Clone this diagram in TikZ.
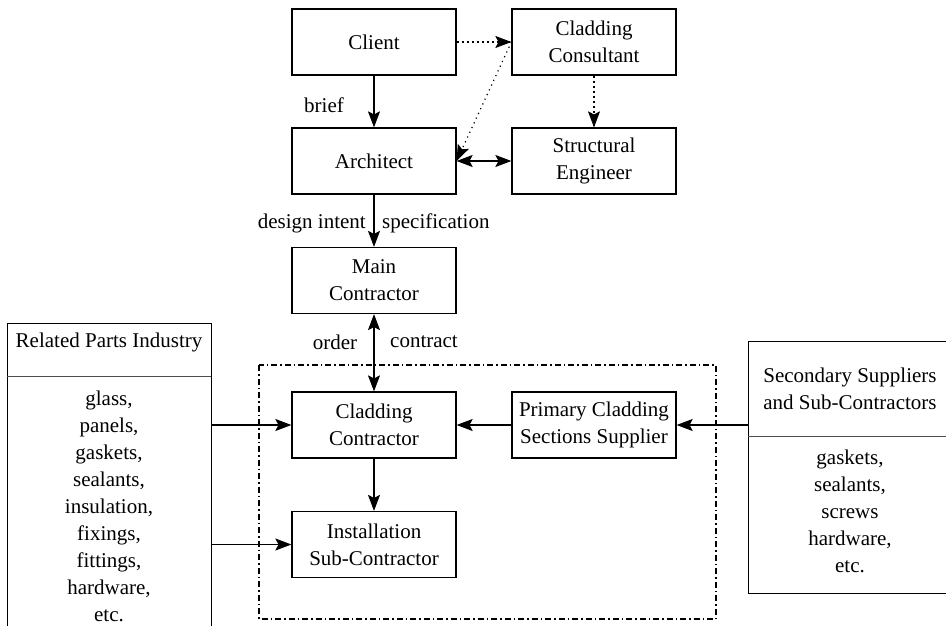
\documentclass[tikz,border=0pt]{standalone}
\usepackage{fontspec}
\setmainfont{Liberation Serif}
\usetikzlibrary{arrows.meta,calc}
\begin{document}
\begin{tikzpicture}[x=1pt,y=-1pt,
  every node/.style={font=\fontsize{21}{27}\selectfont, inner sep=0pt},
  box/.style={draw, line width=1.2pt, minimum width=164pt, minimum height=66pt, align=center},
  tipstyle/.tip={Stealth[length=16pt,width=12pt,inset=3pt]},
  arr/.style={line width=1.2pt, -tipstyle},
  darr/.style={line width=1.2pt, tipstyle-tipstyle},
  dotline/.style={line width=2pt, dash pattern=on 2pt off 3pt, shorten >=10pt},
  fdotline/.style={line width=1.2pt, dash pattern=on 1.2pt off 4pt, shorten >=10pt},
  lbl/.style={}]
\useasboundingbox (0,0) rectangle (946,626);
\clip (0,0) rectangle (946,626);
\fill[white] (0,0) rectangle (946,626);

% boxes
\node[box] (client) at (374,42) {Client};
\node[box] (cons) at (594,42) {Cladding\\Consultant};
\node[box] (arch) at (374,161) {Architect};
\node[box] (struct) at (594,161) {Structural\\Engineer};
\node[box] (main) at (374,280.5) {Main\\Contractor};
\node[box] (cc) at (374,425) {Cladding\\Contractor};
\node[box] (inst) at (374,544.5) {Installation\\Sub-Contractor};
\node[box] (prim) at (594,425) {Primary Cladding\\Sections Supplier};

% dash-dot boundary
\draw[line width=1.2pt, dash pattern=on 6pt off 3pt on 1.5pt off 3pt] (259,365) rectangle (716,619);

% left list box
\node[draw, line width=1.2pt, minimum width=204pt, minimum height=330pt, anchor=north west] (rel) at (7,323) {};
\node (reltitle) at (109,342) {Related Parts Industry};
\draw[line width=0.8pt, black!70] (7,376) -- (211,376);
\node[align=center] (relitems) at (109,506) {glass,\\panels,\\gaskets,\\sealants,\\insulation,\\fixings,\\fittings,\\hardware,\\etc.};

% right list box
\node[draw, line width=1.2pt, minimum width=230pt, minimum height=252pt, anchor=north west] (sec) at (748,341) {};
\node[align=center] (sectitle) at (850,388.5) {Secondary Suppliers\\and Sub-Contractors};
\draw[line width=0.8pt, black!70] (748,436) -- (946,436);
\node[align=center] (secitems) at (850,511) {gaskets,\\sealants,\\screws\\hardware,\\etc.};

% connectors
\draw[arr] (client) -- (arch);
\draw[arr] (arch) -- (main);
\draw[darr] (main) -- (cc);
\draw[arr] (cc) -- (inst);
\draw[arr] (prim) -- (cc);
\draw[arr] (sec.west |- prim) -- (prim.east);
\draw[arr] (rel.east |- cc) -- (cc.west);
\draw[arr] (rel.east |- inst) -- (inst.west);
\draw[darr] (arch) -- (struct);

% dotted connectors with solid heads
\draw[dotline] (client.east) -- (cons.west);
\draw[arr] ($(cons.west)!1pt!(client.east)$) -- (cons.west);
\draw[dotline] (cons.south) -- (struct.north);
\draw[arr] ($(struct.north)!1pt!(cons.south)$) -- (struct.north);
\draw[fdotline] (cons.west) -- (arch.east);
\draw[arr] ($(arch.east)!1pt!(cons.west)$) -- (arch.east);

% labels
\node[lbl] (brief) at (324,105) {brief};
\node[lbl, anchor=east] (di) at (366,223) {design intent};
\node[lbl, anchor=west] (spec) at (382,223) {specification};
\node[lbl] (order) at (335,342) {order};
\node[lbl] (contract) at (424,342) {contract};
\end{tikzpicture}
\end{document}
